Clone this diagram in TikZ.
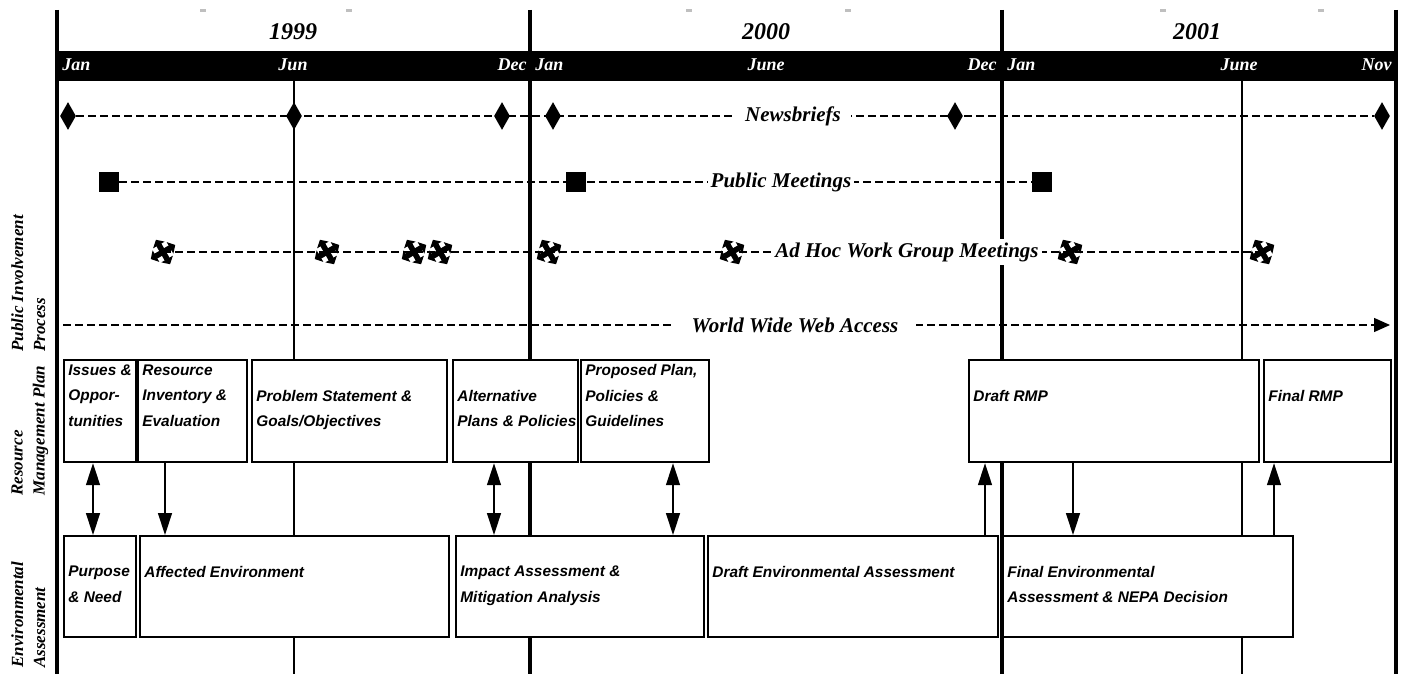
\documentclass[tikz,border=0pt]{standalone}
\usepackage{fontspec}
\setmainfont{Liberation Serif}
\newfontfamily\boxfont{Liberation Sans}
\usetikzlibrary{positioning, shapes.geometric, arrows.meta, calc}

\begin{document}
\begin{tikzpicture}[
  x=0.5pt, y=-0.5pt,
  >={Triangle[length=11pt,width=7pt]},
  yearline/.style={line width=1.6pt},
  monthline/.style={line width=0.7pt},
  trail/.style={line width=0.7pt, dash pattern=on 4pt off 2pt},
  rowlabel/.style={fill=white, inner sep=1.5pt, font=\bfseries\itshape\fontsize{10.5}{12}\selectfont},
  newsmark/.style={diamond, fill, inner sep=0pt, minimum width=8pt, minimum height=14pt},
  meetmark/.style={fill, inner sep=0pt, minimum size=10pt},
  wgspot/.style={inner sep=0pt, minimum size=0pt},
  wgmark/.pic={
    \draw[line width=2.8pt, {Triangle[length=3pt,width=6.5pt]}-{Triangle[length=3pt,width=6.5pt]}] (-5pt,-5pt) -- (5pt,5pt);
    \draw[line width=2.8pt, {Triangle[length=3pt,width=6.5pt]}-{Triangle[length=3pt,width=6.5pt]}] (-5pt,5pt) -- (5pt,-5pt);
  },
  planbox/.style={draw, line width=1.1pt, fill=white, anchor=north west, inner sep=0pt, minimum height=51pt},
  easbox/.style={planbox, minimum height=50.5pt},
  boxtext/.style={anchor=north west, inner sep=0pt, align=left, xshift=2.5pt, yshift=-2.7pt,
    font=\boxfont\bfseries\itshape\fontsize{7.7}{12.7}\selectfont},
  lowtext/.style={boxtext, yshift=-12.7pt},
  link/.style={line width=0.7pt},
  side/.style={rotate=90, anchor=north west, inner sep=0pt, align=left,
    font=\bfseries\itshape\fontsize{8.5}{11}\selectfont},
  month/.style={white, inner sep=0pt, font=\bfseries\itshape\fontsize{9}{10}\selectfont},
  year/.style={inner sep=0pt, font=\bfseries\itshape\fontsize{12}{13}\selectfont}
]
\useasboundingbox (0,0) rectangle (1402,674);

% Grid of years and months
\foreach \x in {203,349,689,848,1163,1321}
  \fill[gray!50] (\x-3,9) rectangle (\x+3,12);
\draw[monthline] (294,81) -- (294,674);
\draw[monthline] (1242,81) -- (1242,674);
\foreach \x in {57,530,1002,1396}
  \draw[yearline] (\x,10) -- (\x,674);
\fill (57,51) rectangle (1396,81);

\node[year] (y1999) at (293,32) {1999};
\node[year] (y2000) at (766,32) {2000};
\node[year] (y2001) at (1197,32) {2001};

\node[month, anchor=west] (m1) at (62,65) {Jan};
\node[month] (m2) at (293,65) {Jun};
\node[month, anchor=east] (m3) at (527,65) {Dec};
\node[month, anchor=west] (m4) at (535,65) {Jan};
\node[month] (m5) at (766,65) {June};
\node[month, anchor=east] (m6) at (997,65) {Dec};
\node[month, anchor=west] (m7) at (1007,65) {Jan};
\node[month] (m8) at (1239,65) {June};
\node[month, anchor=east] (m9) at (1392,65) {Nov};

% Public involvement
\foreach \x [count=\i] in {68,294,502,553,955,1382}
  \node[newsmark] (nb\i) at (\x,116) {};
\draw[trail] (nb1) -- (nb6);
\node[rowlabel, inner xsep=5pt] (nblbl) at (793,116) {Newsbriefs};

\foreach \x [count=\i] in {109,576,1042}
  \node[meetmark] (pm\i) at (\x,182) {};
\draw[trail] (pm1) -- (pm3);
\node[rowlabel] (pmlbl) at (781,182) {Public Meetings};

\foreach \x [count=\i] in {163,327,414,440,549,732,1070,1262}
  \node[wgspot] (wg\i) at (\x,252) {};
\draw[trail] (wg1) -- (wg8);
\foreach \i in {1,...,8}
  \pic[rotate=-15] at (wg\i) {wgmark};
\node[rowlabel] (wglbl) at (907,252) {Ad Hoc Work Group Meetings};

\coordinate (www0) at (63,325);
\coordinate (www1) at (1390,325);
\draw[trail, -{Triangle[length=8pt,width=7pt]}] (www0) -- (www1);
\node[rowlabel, inner xsep=9pt] (wwwlbl) at (795,325) {World Wide Web Access};

% Resource management plan
\node[planbox, minimum width=36pt] (iss) at (63,359) {};
\node[planbox, minimum width=54.5pt] (res) at (137,359) {};
\node[planbox, minimum width=97.5pt] (prob) at (251,359) {};
\node[planbox, minimum width=62.5pt] (alt) at (452,359) {};
\node[planbox, minimum width=64pt] (prop) at (580,359) {};
\node[planbox, minimum width=145pt] (drmp) at (968,359) {};
\node[planbox, minimum width=63.5pt] (frmp) at (1263,359) {};

\node[boxtext] (isst) at (iss.north west) {Issues \&\\Oppor-\\tunities};
\node[boxtext] (rest) at (res.north west) {Resource\\Inventory \&\\Evaluation};
\node[lowtext] (probt) at (prob.north west) {Problem Statement \&\\Goals/Objectives};
\node[lowtext] (altt) at (alt.north west) {Alternative\\Plans \& Policies};
\node[boxtext] (propt) at (prop.north west) {Proposed Plan,\\Policies \&\\Guidelines};
\node[lowtext] (drmpt) at (drmp.north west) {Draft RMP};
\node[lowtext] (frmpt) at (frmp.north west) {Final RMP};

% Environmental assessment
\node[easbox, minimum width=36pt] (pur) at (63,535) {};
\node[easbox, minimum width=154.5pt] (aff) at (139,535) {};
\node[easbox, minimum width=124pt] (imp) at (455,535) {};
\node[easbox, minimum width=145pt] (dea) at (707,535) {};
\node[easbox, minimum width=145pt] (fea) at (1002,535) {};

\node[lowtext] (purt) at (pur.north west) {Purpose\\\& Need};
\node[lowtext] (afft) at (aff.north west) {Affected Environment};
\node[lowtext] (impt) at (imp.north west) {Impact Assessment \&\\Mitigation Analysis};
\node[lowtext] (deat) at (dea.north west) {Draft Environmental Assessment};
\node[lowtext] (feat) at (fea.north west) {Final Environmental\\Assessment \& NEPA Decision};

% Links between plan and assessment
\draw[link, <->] ([xshift=15pt]iss.south west) -- ([xshift=15pt]pur.north west);
\draw[link, ->] ([xshift=14pt]res.south west) -- ([xshift=13pt]aff.north west);
\draw[link, <->] ([xshift=21pt]alt.south west) -- ([xshift=19.5pt]imp.north west);
\draw[link, <->] ([xshift=46.5pt]prop.south west) -- ([xshift=109pt]imp.north west);
\draw[link, ->] ([xshift=139pt]dea.north west) -- ([xshift=8.5pt]drmp.south west);
\draw[link, ->] ([xshift=52.5pt]drmp.south west) -- ([xshift=35.5pt]fea.north west);
\draw[link, ->] ([xshift=136pt]fea.north west) -- ([xshift=5.5pt]frmp.south west);

% Side labels
\node[side] (pilbl) at (11,352) {Public Involvement\\Process};
\node[side] (rmplbl) at (11,496) {Resource\\Management Plan};
\node[side] (ealbl) at (11,668) {Environmental\\Assessment};

\end{tikzpicture}
\end{document}
